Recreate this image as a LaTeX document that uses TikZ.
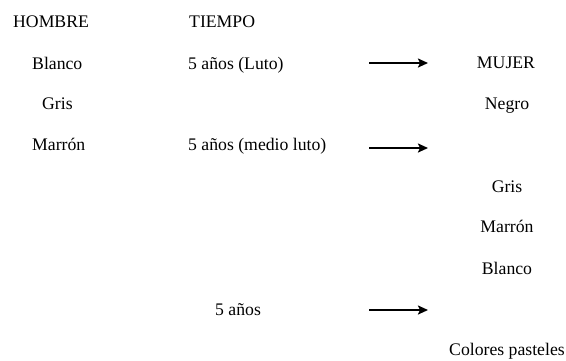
\documentclass[tikz,border=0pt]{standalone}
\usepackage{fontspec}
\setmainfont{Liberation Serif}
\usetikzlibrary{arrows.meta}
\begin{document}
\begin{tikzpicture}[x=1pt,y=-1pt,
  lbl/.style={inner sep=0pt,font=\fontsize{17.7}{21}\selectfont},
  arr/.style={line width=2pt,-{Stealth[length=10pt,width=9pt,inset=2pt]}}]
\useasboundingbox (0,0) rectangle (566,360);
% headers
\node[lbl,anchor=base west] (hombre) at (13,27) {HOMBRE};
\node[lbl,anchor=base west] (tiempo) at (189,27) {TIEMPO};
% left column
\node[lbl,anchor=base west] (blanco) at (32,69) {Blanco};
\node[lbl,anchor=base west] (grisL) at (42,109) {Gris};
\node[lbl,anchor=base west] (marronL) at (32,150) {Marrón};
% middle column
\node[lbl,anchor=base west] (t1) at (188,69) {5 años (Luto)};
\node[lbl,anchor=base west] (t2) at (188,150) {5 años (medio luto)};
\node[lbl,anchor=base west] (t3) at (215,315) {5 años};
% arrow endpoints
\coordinate (a1s) at (369,63); \coordinate (a1e) at (428,63);
\coordinate (a2s) at (369,148); \coordinate (a2e) at (428,148);
\coordinate (a3s) at (369,310); \coordinate (a3e) at (428,310);
\draw[arr] (a1s) -- (a1e);
\draw[arr] (a2s) -- (a2e);
\draw[arr] (a3s) -- (a3e);
% right column
\node[lbl,anchor=base] (mujer) at (506,68) {MUJER};
\node[lbl,anchor=base] (negro) at (507,109) {Negro};
\node[lbl,anchor=base] (grisR) at (507,192) {Gris};
\node[lbl,anchor=base] (marronR) at (507,232) {Marrón};
\node[lbl,anchor=base] (blancoR) at (507,274) {Blanco};
\node[lbl,anchor=base] (pasteles) at (507,355) {Colores pasteles};
\end{tikzpicture}
\end{document}
